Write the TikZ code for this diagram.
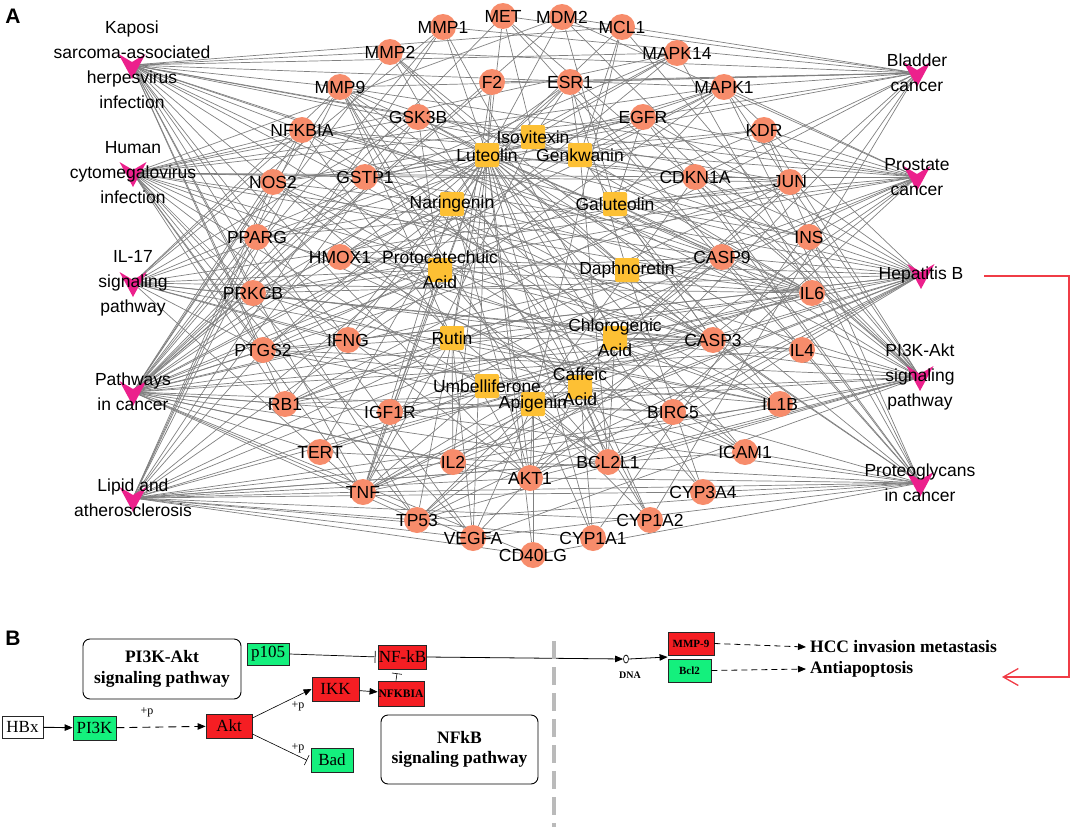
\documentclass[tikz,border=0pt]{standalone}
\usepackage{fontspec}
\newfontfamily\lsans{Liberation Sans}
\newfontfamily\lserif{Liberation Serif}
\usetikzlibrary{arrows.meta,calc,shapes.geometric}
\pgfdeclarelayer{bg}
\pgfsetlayers{bg,main}
\definecolor{tcol}{RGB}{247,140,107}
\definecolor{ccol}{RGB}{253,192,52}
\definecolor{pwcol}{RGB}{236,32,140}
\definecolor{ecol}{RGB}{128,128,128}
\definecolor{kred}{RGB}{245,30,35}
\definecolor{kgreen}{RGB}{20,240,125}
\definecolor{rline}{RGB}{240,60,70}
\begin{document}
\begin{tikzpicture}[x=1pt,y=-1pt,
  tgt/.style={circle,fill=tcol,minimum size=26pt,inner sep=0pt},
  cmp/.style={rectangle,rounded corners=2pt,fill=ccol,minimum size=24pt,inner sep=0pt},
  pwn/.style={coordinate},
  lab/.style={align=center,inner sep=0pt,font=\lsans\fontsize{17.5}{25}\selectfont},
  edge/.style={draw=ecol,line width=0.7pt},
  kbox/.style={draw=black!85,line width=0.8pt,inner sep=0pt,font=\lserif\fontsize{17}{17}\selectfont},
  pbox/.style={draw=black,line width=0.9pt,rounded corners=7pt,align=center,inner sep=0pt,font=\lserif\bfseries\fontsize{17.5}{20.5}\selectfont},
  ktip/.style={-{Triangle[length=8pt,width=6.5pt]}},
  plab/.style={font=\lserif\fontsize{12}{12}\selectfont,inner sep=0pt},
  outtxt/.style={anchor=west,inner sep=0pt,font=\lserif\bfseries\fontsize{17.5}{17.5}\selectfont}
]
\useasboundingbox (0,0) rectangle (1072,827);

% ---------- Part A nodes ----------
\foreach \n/\x/\y in {MMP1/443/27,MET/503/16,MDM2/562/17,MCL1/622/27,MMP2/390/52,MAPK14/677/53,F2/492/82,ESR1/570/82,MMP9/340/87,MAPK1/724/87,GSK3B/418/117,EGFR/643/117,NFKBIA/302/130,KDR/764/130,NOS2/273/182,GSTP1/365/177,CDKN1A/695/177,JUN/790/182,PPARG/257/237,HMOX1/340/257,INS/809/237,CASP9/722/257,PRKCB/253/293,IL6/812/293,PTGS2/263/350,IFNG/348/340,CASP3/713/340,IL4/802/350,RB1/285/404,IGF1R/390/412,BIRC5/673/412,IL1B/780/404,TERT/320/452,IL2/453/462,BCL2L1/608/462,ICAM1/745/452,TNF/363/492,AKT1/530/478,CYP3A4/703/492,TP53/417/520,CYP1A2/650/520,VEGFA/473/538,CYP1A1/593/538,CD40LG/533/555}
  \node[tgt] (\n) at (\x,\y) {};

\foreach \n/\x/\y in {Luteolin/487/155,Isovitexin/533/137,Genkwanin/580/155,Naringenin/452/204,Galuteolin/615/204,Protocatechuic/440/270,Daphnoretin/627/270,Rutin/452/338,Chlorogenic/615/338,Umbelliferone/487/386,Caffeic/580/387,Apigenin/533/404}
  \node[cmp] (\n) at (\x,\y) {};

\foreach \n/\x/\y in {Kaposi/132/65,HCMV/133/173,ILseventeen/133/283,PathCa/133/392,Lipid/133/498,Bladder/917/73,Prostate/917/177,HepB/921/275,PIAkt/920/377,Proteo/920/483}
  {\node[pwn] (\n) at (\x,\y) {};
   \fill[pwcol,shift={(\n)}] (-13.5,-11) -- (0,-3) -- (13.5,-11) -- (0,14) -- cycle;}

% ---------- Part A edges ----------
\begin{pgfonlayer}{bg}
\foreach \s/\ts in {
 Luteolin/{MMP1,MMP2,MMP9,MET,F2,ESR1,GSK3B,EGFR,NFKBIA,NOS2,GSTP1,CDKN1A,JUN,PPARG,HMOX1,INS,CASP9,PRKCB,IL6,PTGS2,IFNG,CASP3,IL4,RB1,IGF1R,BIRC5,IL1B,TERT,IL2,BCL2L1,ICAM1,TNF,AKT1,CYP3A4,TP53,CYP1A2,VEGFA,CYP1A1,CD40LG,MAPK1,MAPK14,MDM2,MCL1,KDR},
 Isovitexin/{MET,ESR1,MAPK14,EGFR,TNF,IL6,NOS2},
 Genkwanin/{MCL1,ESR1,MAPK1,KDR,CDKN1A,CASP3,IL6,BCL2L1,GSTP1},
 Naringenin/{NFKBIA,NOS2,PPARG,HMOX1,PRKCB,PTGS2,ESR1,CASP3,CYP1A2,IL6,TNF,AKT1,CYP3A4},
 Galuteolin/{MDM2,EGFR,JUN,INS,CASP9,IL6,CASP3,IL1B,MAPK1},
 Protocatechuic/{MMP9,NOS2,HMOX1,PRKCB,PTGS2,IFNG,TNF,CASP3,BCL2L1,IL6,GSK3B},
 Daphnoretin/{MMP2,IL6,CYP3A4,ESR1,CASP9},
 Rutin/{MMP9,F2,NFKBIA,IL6,PTGS2,TNF,IL1B,CASP3,VEGFA,IL2,AKT1,RB1},
 Chlorogenic/{MMP1,MMP9,NFKBIA,JUN,IL6,IL4,ICAM1,IL1B,TNF,CASP3,BCL2L1,PPARG},
 Umbelliferone/{TNF,IL6,IGF1R,CASP3,TERT},
 Caffeic/{MMP9,MMP2,NOS2,PTGS2,IL1B,TNF,CASP9,BCL2L1,CYP1A2,CYP1A1,AKT1,HMOX1},
 Apigenin/{MMP9,CDKN1A,CASP3,CASP9,BCL2L1,TNF,TP53,AKT1,CYP1A2,CYP1A1,IL2,VEGFA,CD40LG,BIRC5,PTGS2,MCL1,IGF1R},
 Kaposi/{MMP9,NFKBIA,GSK3B,MAPK14,MAPK1,JUN,CDKN1A,IL6,CASP9,CASP3,IL1B,ICAM1,AKT1,TP53,VEGFA,TNF,IFNG,PTGS2,RB1,BCL2L1,PRKCB,MMP2,MCL1},
 HCMV/{NFKBIA,GSK3B,MAPK14,MAPK1,EGFR,JUN,CDKN1A,CASP9,CASP3,IL6,IL1B,TP53,AKT1,BCL2L1,TNF,PTGS2,RB1,VEGFA,PRKCB,MDM2,ICAM1,GSTP1},
 ILseventeen/{MMP1,MMP9,GSK3B,MAPK14,MAPK1,JUN,NFKBIA,PTGS2,IL6,IL4,IL1B,TNF,IFNG,CASP3,ICAM1,CASP9},
 PathCa/{MMP1,MMP2,MMP9,MET,MDM2,F2,ESR1,GSK3B,EGFR,NFKBIA,NOS2,GSTP1,CDKN1A,JUN,PPARG,HMOX1,CASP9,PRKCB,IL6,PTGS2,IFNG,CASP3,IL4,RB1,IGF1R,BIRC5,TERT,IL2,BCL2L1,AKT1,VEGFA,TP53,CD40LG,KDR,MAPK1},
 Lipid/{MMP1,MMP9,MAPK14,MAPK1,GSK3B,NFKBIA,NOS2,JUN,PPARG,CASP9,IL6,PTGS2,CASP3,IL1B,ICAM1,TNF,AKT1,TP53,BCL2L1,CD40LG,CYP1A1,VEGFA,CYP3A4,IL2,CYP1A2},
 Bladder/{MMP1,MMP2,MMP9,MDM2,EGFR,MAPK1,CDKN1A,RB1,TP53,VEGFA,CYP1A2,CYP1A1,MET,F2,ESR1,GSTP1},
 Prostate/{MDM2,GSK3B,EGFR,NFKBIA,MAPK1,CDKN1A,CASP9,IGF1R,RB1,TP53,AKT1,BCL2L1,KDR,PRKCB,MMP9,INS,PPARG,HMOX1},
 HepB/{MAPK1,NFKBIA,JUN,CDKN1A,IL6,CASP9,CASP3,TP53,AKT1,TNF,PRKCB,BCL2L1,MMP9,RB1,EGFR,GSTP1,PTGS2,BIRC5,IFNG,TERT,IL2,HMOX1},
 PIAkt/{MDM2,MCL1,EGFR,GSK3B,MAPK1,KDR,CDKN1A,INS,CASP9,IL6,PRKCB,IL4,IL2,IGF1R,BCL2L1,AKT1,TP53,VEGFA,MET,NOS2,PTGS2,RB1,TNF},
 Proteo/{MMP2,MMP9,MET,ESR1,EGFR,MAPK1,KDR,CDKN1A,PRKCB,IGF1R,TNF,VEGFA,TP53,AKT1,CASP3,MAPK14,TERT,CD40LG,ICAM1,CYP3A4}}
 {\foreach \t in \ts {\draw[edge] (\s) -- (\t);}}
\end{pgfonlayer}

% ---------- Part A labels ----------
\foreach \n/\t in {MMP1/MMP1,MET/MET,MDM2/MDM2,MCL1/MCL1,MMP2/MMP2,MAPK14/MAPK14,F2/F2,ESR1/ESR1,MMP9/MMP9,MAPK1/MAPK1,GSK3B/GSK3B,EGFR/EGFR,NFKBIA/NFKBIA,KDR/KDR,NOS2/NOS2,GSTP1/GSTP1,CDKN1A/CDKN1A,JUN/JUN,PPARG/PPARG,HMOX1/HMOX1,INS/INS,CASP9/CASP9,PRKCB/PRKCB,IL6/IL6,PTGS2/PTGS2,IFNG/IFNG,CASP3/CASP3,IL4/IL4,RB1/RB1,IGF1R/IGF1R,BIRC5/BIRC5,IL1B/IL1B,TERT/TERT,IL2/IL2,BCL2L1/BCL2L1,ICAM1/ICAM1,TNF/TNF,AKT1/AKT1,CYP3A4/CYP3A4,TP53/TP53,CYP1A2/CYP1A2,VEGFA/VEGFA,CYP1A1/CYP1A1,CD40LG/CD40LG,
 Luteolin/Luteolin,Isovitexin/Isovitexin,Genkwanin/Genkwanin,Naringenin/Naringenin,Galuteolin/Galuteolin,Protocatechuic/{Protocatechuic\\Acid},Daphnoretin/Daphnoretin,Rutin/Rutin,Chlorogenic/{Chlorogenic\\Acid},Umbelliferone/Umbelliferone,Caffeic/{Caffeic\\Acid},Apigenin/Apigenin,
 Kaposi/{Kaposi\\sarcoma-associated\\herpesvirus\\infection},HCMV/{Human\\cytomegalovirus\\infection},ILseventeen/{IL-17\\signaling\\pathway},PathCa/{Pathways\\in cancer},Lipid/{Lipid and\\atherosclerosis},Bladder/{Bladder\\cancer},Prostate/{Prostate\\cancer},HepB/{Hepatitis B},PIAkt/{PI3K-Akt\\signaling\\pathway},Proteo/{Proteoglycans\\in cancer}}
  \node[lab] (l\n) at (\n) {\t};

\node[font=\lsans\bfseries\fontsize{21}{21}\selectfont,inner sep=0pt] (panelA) at (13,16) {A};
\node[font=\lsans\bfseries\fontsize{21}{21}\selectfont,inner sep=0pt] (panelB) at (13,638) {B};

% ---------- Part B ----------
\node[pbox,minimum width=158pt,minimum height=60pt] (bPIbox) at (162,669) {PI3K-Akt\\signaling pathway};
\node[pbox,minimum width=157pt,minimum height=69pt] (bNFbox) at (459.5,749.5) {NFkB\\signaling pathway};

\node[kbox,fill=white,minimum width=41pt,minimum height=22pt] (bHBx) at (22.5,727) {HBx};
\node[kbox,fill=kgreen,minimum width=43pt,minimum height=24pt] (bPI3K) at (94.5,728) {PI3K};
\node[kbox,fill=kred,minimum width=46pt,minimum height=24pt] (bAkt) at (229,726) {Akt};
\node[kbox,fill=kgreen,minimum width=42pt,minimum height=22pt] (bp105) at (268,654) {p105};
\node[kbox,fill=kred,minimum width=47pt,minimum height=24pt] (bNFkB) at (402.5,657) {NF-kB};
\node[kbox,fill=kred,minimum width=47pt,minimum height=24pt] (bIKK) at (335.5,689) {IKK};
\node[kbox,fill=kred,minimum width=46pt,minimum height=25pt,font=\lserif\bfseries\fontsize{11.5}{11.5}\selectfont] (bNFKBIA) at (401,693.5) {NFKBIA};
\node[kbox,fill=kgreen,minimum width=42pt,minimum height=24pt] (bBad) at (332,760) {Bad};
\node[kbox,fill=kred,minimum width=46pt,minimum height=23pt,font=\lserif\bfseries\fontsize{11}{11}\selectfont] (bMMP9) at (691,643.5) {MMP-9};
\node[kbox,fill=kgreen,minimum width=43pt,minimum height=23pt,font=\lserif\bfseries\fontsize{11}{11}\selectfont] (bBcl2) at (689.5,670.5) {Bcl2};
\node[ellipse,draw=black,line width=0.7pt,minimum width=5pt,minimum height=8pt,inner sep=0pt] (bDNA) at (626,659) {};
\node[plab,font=\lserif\bfseries\fontsize{10}{10}\selectfont] (bDNAl) at (630,675) {DNA};

\node[outtxt] (bHCC) at (810,647) {HCC invasion metastasis};
\node[outtxt] (bAnti) at (810,669) {Antiapoptosis};

\coordinate (bJoin) at ($(bMMP9.south west)!0.5!(bBcl2.north west)$);

\draw[line width=0.9pt,ktip] (bHBx) -- (bPI3K);
\draw[line width=0.9pt,ktip,dash pattern=on 8pt off 5pt] (bPI3K) -- (bAkt);
\node[plab] (bp1) at (147,712) {+p};
\draw[line width=0.6pt,ktip] ([yshift=8pt]bAkt.east) -- (bIKK.west);
\node[plab] (bp2) at (298,706) {+p};
\draw[line width=0.6pt,-{Bar[width=11pt]},shorten >=4pt] ([yshift=-8pt]bAkt.east) -- ([yshift=-2pt]bBad.west);
\node[plab] (bp3) at (298,748) {+p};
\draw[line width=0.7pt,-{Bar[width=12pt]},shorten >=3pt] (bp105.east) -- (bNFkB.west);
\draw[line width=0.7pt,ktip] (bIKK) -- (bNFKBIA);
\draw[line width=0.6pt,-{Bar[width=10pt]},shorten >=4pt] ([xshift=-5pt]bNFKBIA.north) -- ([xshift=-5pt]bNFkB.south);
\draw[line width=0.8pt,ktip] (bNFkB.east) -- (bDNA.west);
\draw[line width=0.8pt,ktip] (bDNA.east) -- (bJoin);
\draw[line width=0.8pt,ktip,dash pattern=on 6pt off 4pt] (bMMP9.east) -- ([xshift=-4pt]bHCC.west);
\draw[line width=0.8pt,ktip,dash pattern=on 6pt off 4pt] (bBcl2.east) -- ([xshift=-4pt]bAnti.west);

% gray divider
\draw[color=black!27,line width=4pt,dash pattern=on 18pt off 8pt] (554,641) -- (554,827);

% red connector
\coordinate (rStart) at (984,276);
\coordinate (rEnd) at (1002,677);
\draw[rline,line width=1.3pt,-{Straight Barb[length=15pt,width=17pt]}] (rStart) -- ++(85,0) |- (rEnd);
\end{tikzpicture}
\end{document}
